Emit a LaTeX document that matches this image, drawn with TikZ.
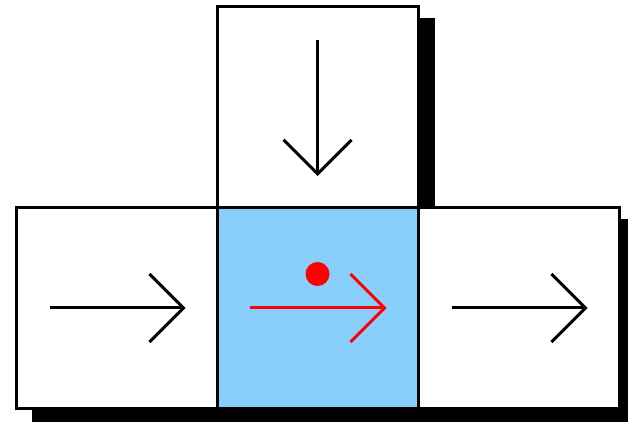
\documentclass[tikz,border=0pt]{standalone}
\usetikzlibrary{positioning, calc, arrows.meta, backgrounds}
\definecolor{Celda}{RGB}{135,206,250}

\begin{document}
\begin{tikzpicture}[
  x=1pt, y=1pt,
  cell/.style={
    rectangle, draw=black, fill=white,
    line width=3pt, minimum size=201pt,
    inner sep=0pt, outer sep=0pt
  },
  mv/.style={
    -{Straight Barb[length=34pt, width=68pt]},
    line width=3pt
  }
]
\useasboundingbox (0, 0) rectangle (628, 422);

%% ── Celdas ───────────────────────────────────────────────────────────────
\node[cell, fill=Celda] (mid) at (317.5, 114) {};
\node[cell, above=0pt of mid] (top)   {};
\node[cell, left=0pt of mid]  (left)  {};
\node[cell, right=0pt of mid] (right) {};

%% ── Sombras ──────────────────────────────────────────────────────────────
\begin{scope}[on background layer]
  \fill[black] ($(top.south west)+(17,-12)$) rectangle ($(top.north east)+(17,-12)$);
  \fill[black] ($(left.south west)+(16,-14)$) rectangle ($(right.north east)+(12,-12)$);
\end{scope}

%% ── Flechas ──────────────────────────────────────────────────────────────
\draw[mv] ($(top)+(0, 67)$) -- ($(top)+(0, -69)$);
\draw[mv] ($(left)+(-66.5, 0)$) -- ($(left)+(69, 0)$);
\draw[mv] ($(right)+(-66.5, 0)$) -- ($(right)+(69, 0)$);
\draw[mv, red] ($(mid)+(-67.5, 0)$) -- ($(mid)+(69, 0)$);

%% punto del agente
\fill[red] ($(mid)+(0, 34)$) circle (12);

\end{tikzpicture}
\end{document}
